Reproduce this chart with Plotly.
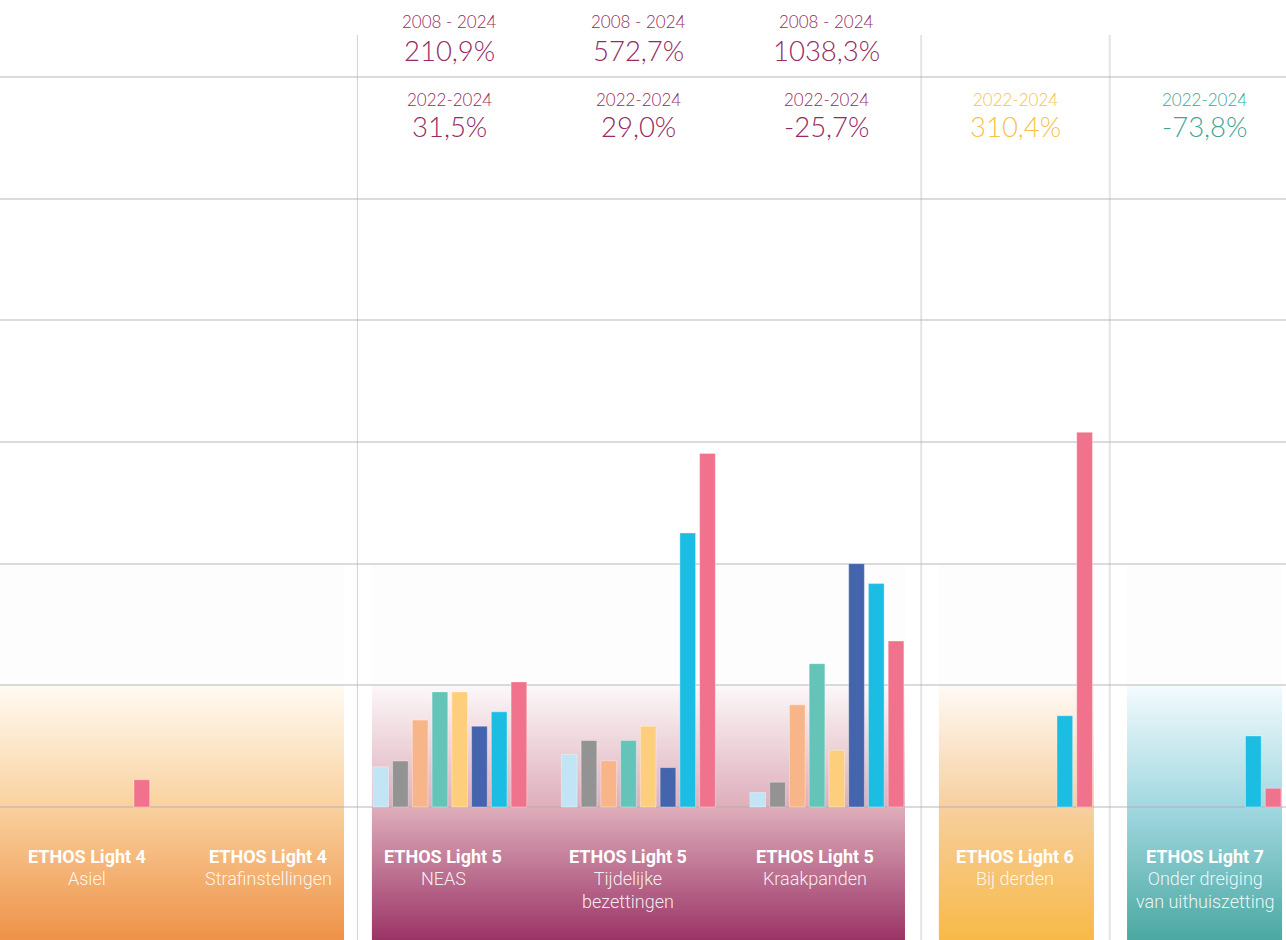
import plotly.graph_objects as go

# ---------------- data ----------------
categories = ["Asiel", "Strafinstellingen", "NEAS", "Tijdelijke bezettingen",
              "Kraakpanden", "Bij derden", "Onder dreiging van uithuiszetting"]
ethos_labels = ["ETHOS Light 4", "ETHOS Light 4", "ETHOS Light 5", "ETHOS Light 5",
                "ETHOS Light 5", "ETHOS Light 6", "ETHOS Light 7"]
sub_labels = ["Asiel", "Strafinstellingen", "NEAS", "Tijdelijke<br>bezettingen",
              "Kraakpanden", "Bij derden", "Onder dreiging<br>van uithuiszetting"]
years = ["2008", "2010", "2014", "2016", "2018", "2020", "2022", "2024"]

v2008 = [None, None, 165, 216, 60, None, None]
v2010 = [None, None, 189, 273, 102, None, None]
v2014 = [None, None, 357, 190, 420, None, None]
v2016 = [None, None, 473, 273, 589, None, None]
v2018 = [None, None, 473, 332, 233, None, None]
v2020 = [None, None, 332, 162, 1000, None, None]
v2022 = [None, None, 391, 1126, 918, 375, 292]
v2024 = [112, None, 514, 1453, 682, 1540, 77]
series = [v2008, v2010, v2014, v2016, v2018, v2020, v2022, v2024]

bar_colors = ["#c1e5f4", "#939393", "#f9b58a", "#63c4b7", "#fdcf7d", "#4564ae", "#1bbde3", "#f1728c"]

long_period = "2008 - 2024"
long_change = [None, None, "210,9%", "572,7%", "1038,3%", None, None]
short_period = "2022-2024"
short_change = [None, None, "31,5%", "29,0%", "-25,7%", "310,4%", "-73,8%"]
change_colors = [None, None, "#962a61", "#962a61", "#962a61", "#f8c14f", "#3fa596"]

# ---------------- figure ----------------
W, H = 1286, 940
Y_MIN, Y_MAX = -546.6, 3316.3
X_MIN, X_MAX = -0.3856, 6.4349


def ypaper(px):
    return 1 - px / H


def xpaper(px):
    return px / W


fig = go.Figure()
for yr, vals, col in zip(years, series, bar_colors):
    fig.add_trace(go.Bar(
        x=categories, y=vals, name=yr,
        marker=dict(color=col, line=dict(width=1, color="rgba(255,255,255,0.35)")),
        hoverinfo="x+y+name",
    ))

shapes = []


def hex2rgb(h):
    h = h.lstrip("#")
    return tuple(int(h[i:i + 2], 16) for i in (0, 2, 4))


def color_at(stops, v):
    for (v0, c0), (v1, c1) in zip(stops[:-1], stops[1:]):
        if v1 <= v <= v0:
            t = (v0 - v) / (v0 - v1) if v0 != v1 else 0
            a, b = hex2rgb(c0), hex2rgb(c1)
            return "rgb(%d,%d,%d)" % tuple(round(a[k] + (b[k] - a[k]) * t) for k in range(3))
    return stops[-1][1]


panels = [
    (-0.40, 1.439, [(500, "#fffbf3"), (0, "#f9d19e"), (Y_MIN, "#ef9249")]),
    (1.587, 4.414, [(500, "#fcf8f9"), (0, "#deaebb"), (Y_MIN, "#9b3466")]),
    (4.594, 5.416, [(500, "#fffaf6"), (0, "#f6cf9f"), (Y_MIN, "#f8b947")]),
    (5.592, 6.414, [(500, "#f3fbfd"), (0, "#a2d8e1"), (Y_MIN, "#4ba8a2")]),
]
step = 3 * (Y_MAX - Y_MIN) / H
for x0, x1, stops in panels:
    shapes.append(dict(type="rect", xref="x", yref="y", x0=x0, x1=x1, y0=500, y1=1000,
                       fillcolor="#fdfdfd", line=dict(width=0), layer="below"))
    v = 500.0
    while v > Y_MIN:
        vb = max(v - step, Y_MIN)
        shapes.append(dict(type="rect", xref="x", yref="y", x0=x0, x1=x1,
                           y0=vb - step * 0.4 if vb > Y_MIN else Y_MIN - 5, y1=v,
                           fillcolor=color_at(stops, (v + vb) / 2),
                           line=dict(width=0), layer="below"))
        v = vb

for xb, col, w in [(1.51, "#d2d2d2", 1), (4.5, "#e4e4e4", 2), (5.5, "#e4e4e4", 2)]:
    shapes.append(dict(type="line", xref="x", yref="paper", x0=xb, x1=xb,
                       y0=0, y1=ypaper(35), line=dict(color=col, width=w), layer="below"))

annotations = []
SMALL, BIG = 17, 27.5
for i in range(len(categories)):
    if long_change[i]:
        annotations.append(dict(x=i, y=ypaper(22), xref="x", yref="paper", text=long_period,
                                xanchor="center", yanchor="middle", showarrow=False,
                                font=dict(family="Lato", size=SMALL, color=change_colors[i], weight=300)))
        annotations.append(dict(x=i, y=ypaper(50.5), xref="x", yref="paper", text=long_change[i],
                                xanchor="center", yanchor="middle", showarrow=False,
                                font=dict(family="Lato", size=BIG, color=change_colors[i], weight=300)))
    if short_change[i]:
        annotations.append(dict(x=i, y=ypaper(99), xref="x", yref="paper", text=short_period,
                                xanchor="center", yanchor="middle", showarrow=False,
                                font=dict(family="Lato", size=SMALL, color=change_colors[i], weight=300)))
        annotations.append(dict(x=i, y=ypaper(126.5), xref="x", yref="paper", text=short_change[i],
                                xanchor="center", yanchor="middle", showarrow=False,
                                font=dict(family="Lato", size=BIG, color=change_colors[i], weight=300)))

label_px = [87, 268, 443, 628, 815, 1015, 1205]
for i in range(len(categories)):
    annotations.append(dict(x=xpaper(label_px[i]), y=ypaper(856), xref="paper", yref="paper",
                            xanchor="center", yanchor="middle",
                            text="<b>" + ethos_labels[i] + "</b>", showarrow=False,
                            font=dict(family="Roboto", size=18, color="white")))
    annotations.append(dict(x=xpaper(label_px[i]), y=ypaper(866), xref="paper", yref="paper",
                            xanchor="center", yanchor="top", text=sub_labels[i], showarrow=False,
                            font=dict(family="Roboto", size=18, color="rgba(255,255,255,0.9)", weight=300)))

fig.update_layout(
    width=W, height=H,
    margin=dict(l=0, r=0, t=0, b=0, pad=0),
    paper_bgcolor="white", plot_bgcolor="white",
    barmode="group", bargap=0.162, bargroupgap=0.205,
    showlegend=False,
    shapes=shapes, annotations=annotations,
    xaxis=dict(range=[X_MIN, X_MAX], showgrid=False, showticklabels=False, zeroline=False,
               showline=False, ticks="", fixedrange=True),
    yaxis=dict(range=[Y_MIN, Y_MAX], tickvals=[0, 500, 1000, 1500, 2000, 2500, 3000],
               showgrid=True, gridcolor="rgba(175,175,175,0.45)", gridwidth=1.5,
               showticklabels=False, zeroline=False, showline=False, ticks="", fixedrange=True),
)

fig.write_html("out.html", config={"displayModeBar": False},
               post_script="document.body.style.margin='0';document.body.style.overflow='hidden';")
